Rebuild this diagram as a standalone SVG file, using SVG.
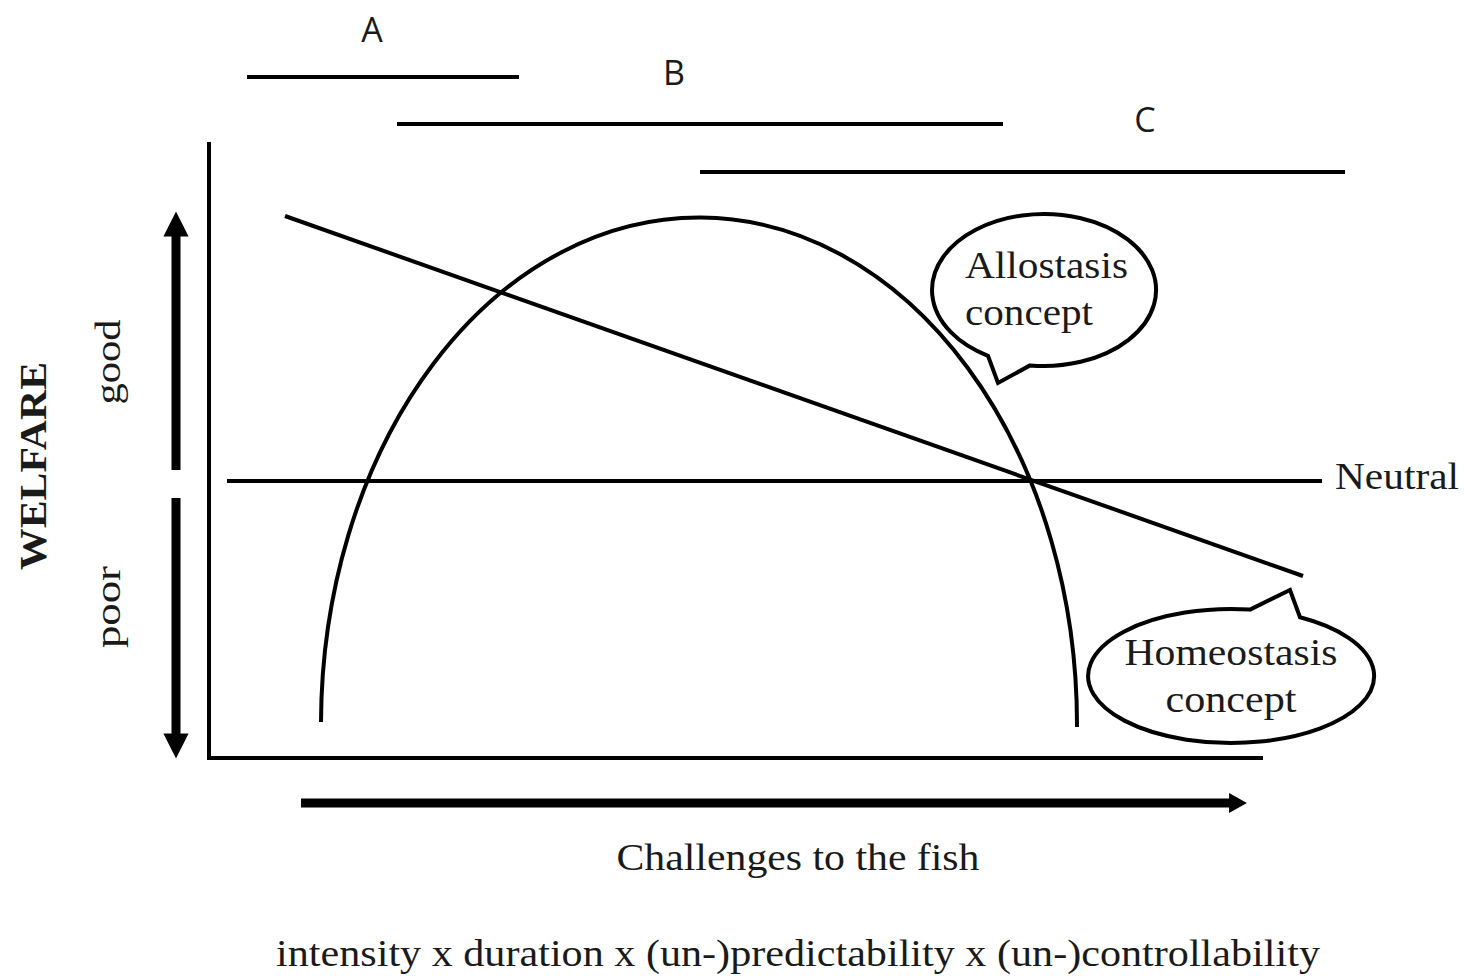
<svg xmlns="http://www.w3.org/2000/svg" width="1464" height="976" viewBox="0 0 1464 976">
<defs>
<style>
.ln{stroke:#000;stroke-width:4;fill:none}
.thick{stroke:#000;stroke-width:9;fill:none}
.serif{font-family:"Liberation Serif","Times New Roman",serif;fill:#1a1a1a}
.sans{font-family:"Open Sans","Liberation Sans",sans-serif;fill:#1a1a1a;font-size:34px}
.bubble{stroke:#000;stroke-width:4;fill:#fff}
</style>
<marker id="ah" viewBox="0 0 10 10" refX="5" refY="5" markerWidth="2.8" markerHeight="2.8" orient="auto-start-reverse" markerUnits="strokeWidth">
<path d="M0,0 L10,5 L0,10 z" fill="#000"/>
</marker>
<marker id="ahx" viewBox="0 0 10 10" refX="5" refY="5" markerWidth="2.2" markerHeight="2.2" orient="auto" markerUnits="strokeWidth">
<path d="M1,0 L10,5 L1,10 z" fill="#000"/>
</marker>
</defs>
<rect width="1464" height="976" fill="#fff"/>

<g id="axes">
<path class="ln" d="M209,142 L209,758 L1263,758"/>
</g>

<g id="ranges">
<line class="ln" x1="247" y1="77" x2="519" y2="77"/>
<line class="ln" x1="397" y1="124" x2="1003" y2="124"/>
<line class="ln" x1="700" y1="172" x2="1345" y2="172"/>
<text class="sans" x="372" y="42" text-anchor="middle">A</text>
<text class="sans" x="674" y="85" text-anchor="middle">B</text>
<text class="sans" x="1145" y="132" text-anchor="middle">C</text>
</g>

<g id="connectors">
<path class="ln" d="M321,722 A378,507 0 0 1 1077,727"/>
<line class="ln" x1="285" y1="216" x2="1303" y2="576"/>
<line class="ln" x1="227" y1="481" x2="1322" y2="481"/>
<line class="thick" x1="176" y1="470" x2="176" y2="224" marker-end="url(#ah)"/>
<line class="thick" x1="176" y1="498" x2="176" y2="746" marker-end="url(#ah)"/>
<line class="thick" x1="301" y1="803" x2="1237" y2="803" marker-end="url(#ahx)"/>
</g>

<g id="neutral">
<text class="serif" x="1335" y="489" font-size="37" textLength="124" lengthAdjust="spacingAndGlyphs">Neutral</text>
</g>

<g id="allostasis">
<path class="bubble" d="M988,355.8 A112,76 0 1 1 1030,365.4 L998,383 Z"/>
<text class="serif" font-size="37" x="965" y="278" textLength="163" lengthAdjust="spacingAndGlyphs">Allostasis</text>
<text class="serif" font-size="37" x="965" y="325" textLength="128" lengthAdjust="spacingAndGlyphs">concept</text>
</g>

<g id="homeostasis">
<path class="bubble" d="M1300,617.3 A143,67 0 1 1 1250,609.6 L1290,590 Z"/>
<text class="serif" font-size="37" x="1231" y="665" text-anchor="middle" textLength="213" lengthAdjust="spacingAndGlyphs">Homeostasis</text>
<text class="serif" font-size="37" x="1231" y="712" text-anchor="middle" textLength="131" lengthAdjust="spacingAndGlyphs">concept</text>
</g>

<g id="yaxis-labels">
<text class="serif" font-size="37" font-weight="bold" transform="translate(46,466) rotate(-90)" text-anchor="middle" textLength="208" lengthAdjust="spacingAndGlyphs">WELFARE</text>
<text class="serif" font-size="35" transform="translate(120,362) rotate(-90)" text-anchor="middle" textLength="85" lengthAdjust="spacingAndGlyphs">good</text>
<text class="serif" font-size="35" transform="translate(120,607) rotate(-90)" text-anchor="middle" textLength="82" lengthAdjust="spacingAndGlyphs">poor</text>
</g>

<g id="xaxis-labels">
<text class="serif" font-size="37" x="798" y="870" text-anchor="middle" textLength="363" lengthAdjust="spacingAndGlyphs">Challenges to the fish</text>
<text class="serif" font-size="37" x="798" y="966" text-anchor="middle" textLength="1044" lengthAdjust="spacingAndGlyphs">intensity x duration x (un-)predictability x (un-)controllability</text>
</g>
</svg>
